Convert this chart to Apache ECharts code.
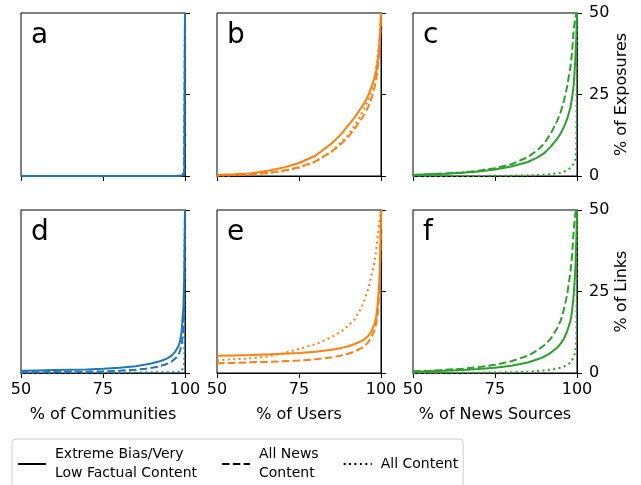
<!DOCTYPE html>
<html>
<head>
<meta charset="utf-8">
<script src="https://cdn.jsdelivr.net/npm/echarts@6/dist/echarts.min.js"></script>
<style>
  html, body { margin: 0; padding: 0; background: #fff; }
  #chart { width: 641px; height: 485px; }
</style>
</head>
<body>
<div id="chart"></div>
<script>
// shared x grid (% of communities / users / news sources)
const xPct = [50, 55, 60, 65, 70, 75, 80, 85, 88, 90, 92, 94, 95, 96, 97, 98, 98.5, 99, 99.5, 99.8, 100];

// a: communities, % of exposures
const aSolid  = [0, 0, 0, 0, 0, 0, 0, 0, 0, 0, 0, 0, 0, 0, 0, 0.05, 0.08, 0.1, 0.3, 1, 50];
const aDashed = [0, 0, 0, 0, 0, 0, 0, 0, 0, 0, 0, 0, 0, 0, 0, 0.03, 0.05, 0.08, 0.2, 0.6, 50];
const aDotted = [0, 0, 0, 0, 0, 0, 0, 0, 0, 0, 0, 0, 0, 0, 0, 0.02, 0.03, 0.05, 0.1, 0.4, 50];
// b: users, % of exposures
const bSolid  = [0.3, 0.5, 0.8, 1.5, 2.5, 4.0, 6.2, 10, 13, 15.5, 18, 21, 22.5, 24.5, 27, 30, 32, 35, 40, 45, 50];
const bDashed = [0.2, 0.3, 0.5, 0.9, 1.6, 2.7, 4.5, 7.5, 10, 12, 14.5, 17.5, 19, 21, 23.5, 27, 29.5, 33, 38, 44, 50];
const bDotted = [0.1, 0.2, 0.4, 0.8, 1.4, 2.5, 4.3, 7.5, 10.5, 12.5, 15.5, 19, 21, 23, 26, 30, 33, 37, 42, 46, 50];
// c: news sources, % of exposures
const cSolid  = [0.3, 0.5, 0.7, 1.0, 1.4, 2.0, 2.9, 4.3, 5.7, 7, 9, 11.5, 13, 15, 17.5, 21, 24, 28, 36, 43, 50];
const cDashed = [0.3, 0.5, 0.8, 1.1, 1.6, 2.4, 3.6, 5.8, 8, 10, 13, 17, 19.5, 23, 27.5, 33.5, 38, 45, 48.5, 50, 50];
const cDotted = [0, 0, 0, 0, 0.03, 0.05, 0.1, 0.2, 0.3, 0.4, 0.6, 0.8, 1, 1.3, 1.8, 2.5, 3, 3.8, 5, 8, 50];
// d: communities, % of links
const dSolid  = [0.7, 0.8, 0.9, 1.0, 1.1, 1.3, 1.6, 2.1, 2.6, 3.0, 3.5, 4.2, 4.7, 5.4, 6.5, 8.2, 9.8, 13, 20, 30, 50];
const dDashed = [0.2, 0.25, 0.3, 0.35, 0.4, 0.5, 0.7, 1.0, 1.3, 1.6, 2.0, 2.6, 3.0, 3.6, 4.4, 5.5, 6.8, 9, 13, 22, 50];
const dDotted = [0.1, 0.1, 0.1, 0.1, 0.1, 0.1, 0.1, 0.15, 0.15, 0.2, 0.2, 0.2, 0.25, 0.25, 0.3, 0.3, 0.4, 0.5, 1, 3, 50];
// e: users, % of links
const eSolid  = [5.3, 5.4, 5.5, 5.7, 5.9, 6.1, 6.5, 7.1, 7.7, 8.2, 8.9, 9.8, 10.4, 11.3, 12.6, 15, 17, 21, 28, 38, 50];
const eDashed = [3.0, 3.1, 3.3, 3.4, 3.6, 3.8, 4.2, 4.8, 5.4, 5.9, 6.6, 7.6, 8.3, 9.3, 10.8, 13, 15, 18, 25, 35, 50];
const eDotted = [4.0, 4.2, 4.5, 5.0, 6.0, 7.4, 8.8, 11, 12.8, 14.5, 16.5, 20, 22.5, 25.5, 29.5, 34, 37.5, 42, 46, 48.5, 50];
// f: news sources, % of links
const fSolid  = [0.4, 0.5, 0.7, 0.9, 1.2, 1.6, 2.2, 3.2, 4.2, 5.0, 6.2, 7.8, 9, 10.5, 12.8, 16, 19, 24, 32, 41, 50];
const fDashed = [0.5, 0.7, 1.0, 1.3, 1.8, 2.5, 3.6, 5.3, 7, 8.5, 10.5, 13.8, 16, 19.5, 24, 31, 36, 44, 49, 50, 50];
const fDotted = [0, 0, 0.05, 0.05, 0.1, 0.15, 0.25, 0.4, 0.6, 0.8, 1.0, 1.4, 1.6, 2, 2.5, 3.2, 3.8, 4.8, 6.5, 10, 50];

const letters = ['a', 'b', 'c', 'd', 'e', 'f'];
const panelData = [
    [aSolid, aDashed, aDotted], [bSolid, bDashed, bDotted], [cSolid, cDashed, cDotted],
    [dSolid, dDashed, dDotted], [eSolid, eDashed, eDotted], [fSolid, fDashed, fDotted]
];
const colColors = ['#1f77b4', '#ff7f0e', '#2ca02c'];
const xNames = ['% of Communities', '% of Users', '% of News Sources'];
const yNames = ['% of Exposures', '% of Links'];
const seriesNames = ['Extreme Bias/Very\nLow Factual Content', 'All News\nContent', 'All Content'];
const dashTypes = ['solid', [7.5, 3.3], [2, 3.4]];

const FONT = 'DejaVu Sans';
const colLeft = [21, 217, 413];
const rowTop = [13, 210];
const W = 164, H = 163;

let grids = [], xAxes = [], yAxes = [], series = [], titles = [];
for (let i = 0; i < 6; i++) {
    const row = Math.floor(i / 3), col = i % 3;
    grids.push({
        left: colLeft[col], top: rowTop[row], width: W, height: H,
        show: true, borderColor: '#000', borderWidth: 1, containLabel: false
    });
    xAxes.push({
        type: 'value', gridIndex: i, min: 50, max: 100, interval: 25,
        axisLine: {show: true, onZero: false, lineStyle: {color: '#000', width: 1}},
        axisTick: {show: true, inside: false, length: 5, lineStyle: {color: '#000'}},
        splitLine: {show: false},
        axisLabel: {show: row === 1, margin: 9, color: '#000', fontSize: 16, fontFamily: FONT},
        name: row === 1 ? xNames[col] : '',
        nameLocation: 'middle', nameGap: 34,
        nameTextStyle: {color: '#000', fontSize: 16, fontFamily: FONT}
    });
    yAxes.push({
        type: 'value', gridIndex: i, position: 'right', min: 0, max: 50, interval: 25,
        axisLine: {show: true, onZero: false, lineStyle: {color: '#000', width: 1}},
        axisTick: {show: true, inside: false, length: 5, lineStyle: {color: '#000'}},
        splitLine: {show: false},
        axisLabel: {show: col === 2, margin: 12, color: '#000', fontSize: 16, fontFamily: FONT},
        name: col === 2 ? yNames[row] : '',
        nameLocation: 'middle', nameRotate: 90, nameGap: 37,
        nameTextStyle: {color: '#000', fontSize: 16, fontFamily: FONT}
    });
    titles.push({
        text: letters[i], left: colLeft[col] + 10, top: rowTop[row] + 9, padding: 0,
        textStyle: {fontFamily: FONT, fontSize: 28, fontWeight: 'normal', color: '#000'}
    });
    panelData[i].forEach((ys, k) => {
        series.push({
            type: 'line', name: seriesNames[k], xAxisIndex: i, yAxisIndex: i,
            symbol: 'none', showSymbol: false, smooth: false, clip: true,
            color: colColors[col],
            lineStyle: {color: colColors[col], width: 2, type: dashTypes[k]},
            data: xPct.map((x, j) => [x, ys[j]])
        });
    });
}

const chart = echarts.init(document.getElementById('chart'), null, {renderer: 'canvas'});
chart.setOption({
    animation: false,
    backgroundColor: '#fff',
    title: titles,
    grid: grids,
    xAxis: xAxes,
    yAxis: yAxes,
    legend: {
        data: seriesNames,
        left: 12, top: 439,
        orient: 'horizontal',
        itemWidth: 28, itemHeight: 14, itemGap: 24,
        padding: [6, 5, 6, 5],
        borderColor: '#ccc', borderWidth: 1, borderRadius: 4,
        itemStyle: {opacity: 0},
        lineStyle: {color: '#000', width: 2},
        textStyle: {color: '#000', fontSize: 14, lineHeight: 19, fontFamily: FONT, padding: [0, 0, 0, 4]}
    },
    series: series
});
</script>
</body>
</html>
